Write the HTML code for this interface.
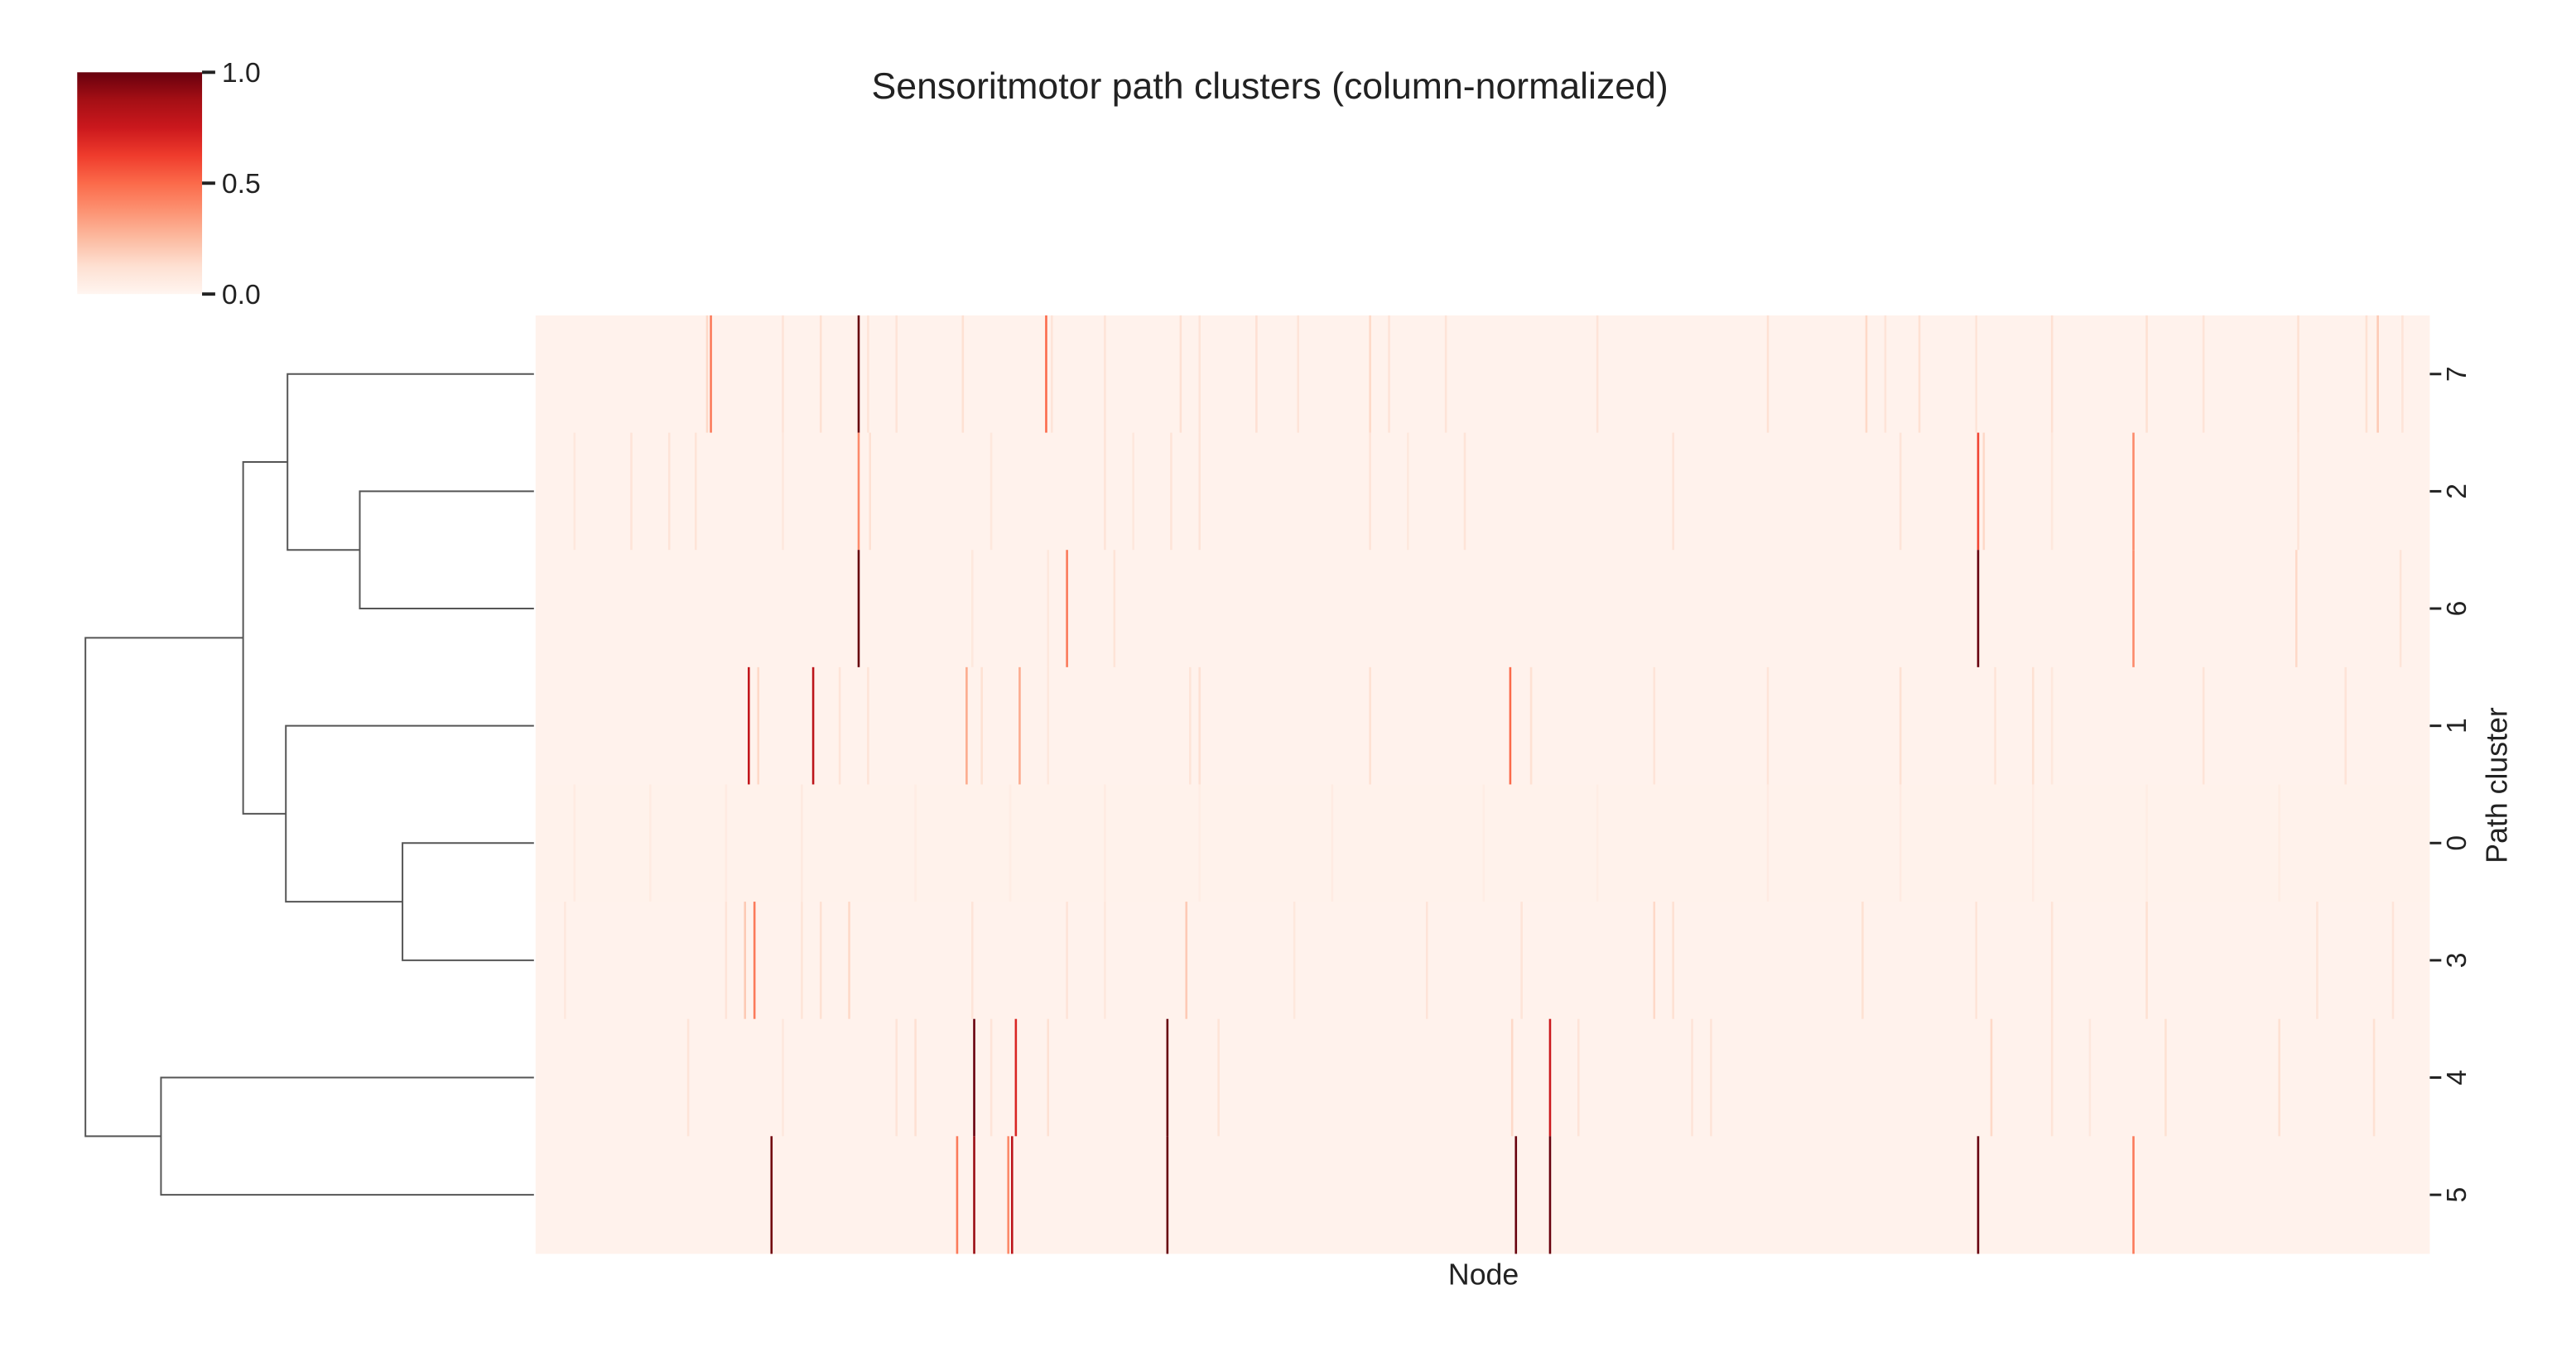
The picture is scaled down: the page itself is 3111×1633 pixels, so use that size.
<!DOCTYPE html>
<html><head><meta charset="utf-8">
<style>
html,body{margin:0;padding:0;background:#fff;}
svg{display:block;font-family:"Liberation Sans",Arial,sans-serif;}
</style></head>
<body>
<svg id="chart" width="3111" height="1633" viewBox="0 0 3136 1646" preserveAspectRatio="none" xmlns="http://www.w3.org/2000/svg">
<defs>
<linearGradient id="cbgrad" x1="0" y1="1" x2="0" y2="0">
<stop offset="0" stop-color="#fff5f0"/><stop offset="0.125" stop-color="#fee0d2"/>
<stop offset="0.25" stop-color="#fcbba1"/><stop offset="0.375" stop-color="#fc9272"/>
<stop offset="0.5" stop-color="#fb6a4a"/><stop offset="0.625" stop-color="#ef3b2c"/>
<stop offset="0.75" stop-color="#cb181d"/><stop offset="0.875" stop-color="#a50f15"/>
<stop offset="1" stop-color="#67000d"/>
</linearGradient>
</defs>
<text x="1546" y="120" font-size="45" text-anchor="middle" fill="#222">Sensoritmotor path clusters (column-normalized)</text>
<g>
<rect x="94" y="88" width="152" height="270" fill="url(#cbgrad)"/>
<g stroke="#222" stroke-width="4">
<line x1="246" y1="88" x2="262" y2="88"/><line x1="246" y1="223" x2="262" y2="223"/><line x1="246" y1="358" x2="262" y2="358"/>
</g>
<g font-size="34" fill="#222">
<text x="270" y="100">1.0</text>
<text x="270" y="235">0.5</text>
<text x="270" y="370">0.0</text>
</g>
</g>
<g id="heat"></g>
<g id="dendro" stroke="#555" stroke-width="2" fill="none"></g>
<g id="yaxis"></g>
<text x="1806" y="1564" font-size="36" text-anchor="middle" fill="#222">Node</text>
<text transform="translate(3052,956) rotate(-90)" font-size="36" text-anchor="middle" fill="#222">Path cluster</text>
</svg>
<script>
// ---- data ----
const rowLabels = ["7","2","6","1","0","3","4","5"];
const nCols = 1000;
const baseValues = [0.015,0.015,0.015,0.015,0.02,0.015,0.015,0.015];
// [column index, value] per row
const row7 = [[92,0.45],[90,0.15],[130,0.1],[150,0.12],[170,1.0],[175,0.1],[190,0.1],[225,0.12],[269,0.5],[272,0.1],[300,0.1],[340,0.12],[350,0.1],[380,0.12],[402,0.1],[440,0.15],[450,0.1],[480,0.1],[560,0.1],[650,0.12],[702,0.15],[712,0.1],[730,0.12],[760,0.1],[800,0.12],[850,0.12],[880,0.1],[930,0.12],[966,0.12],[972,0.2],[985,0.1]];
const row2 = [[20,0.08],[50,0.1],[70,0.1],[84,0.1],[130,0.08],[170,0.4],[176,0.12],[240,0.08],[300,0.1],[315,0.08],[335,0.1],[350,0.1],[440,0.1],[460,0.08],[490,0.1],[600,0.1],[720,0.1],[761,0.6],[764,0.15],[843,0.4],[800,0.08],[930,0.1]];
const row6 = [[170,1.0],[230,0.08],[270,0.08],[280,0.45],[305,0.1],[761,1.0],[843,0.4],[929,0.15],[984,0.1]];
const row1 = [[112,0.78],[117,0.15],[146,0.8],[160,0.1],[175,0.1],[227,0.3],[235,0.12],[255,0.3],[270,0.08],[350,0.12],[345,0.1],[440,0.12],[514,0.5],[525,0.12],[590,0.1],[650,0.1],[720,0.12],[770,0.1],[790,0.12],[800,0.08],[880,0.1],[955,0.1]];
const row0 = [[20,0.06],[60,0.06],[100,0.06],[140,0.07],[200,0.05],[250,0.05],[300,0.06],[350,0.05],[420,0.06],[500,0.05],[560,0.05],[650,0.06],[720,0.06],[790,0.06],[850,0.05],[920,0.05]];
const row3 = [[15,0.08],[100,0.1],[110,0.2],[115,0.45],[140,0.1],[150,0.12],[165,0.15],[230,0.1],[280,0.1],[300,0.08],[343,0.2],[400,0.08],[470,0.1],[520,0.1],[590,0.15],[600,0.12],[700,0.12],[760,0.1],[800,0.1],[850,0.12],[940,0.1],[980,0.1]];
const row4 = [[80,0.1],[130,0.08],[190,0.1],[200,0.12],[231,1.0],[240,0.1],[253,0.7],[270,0.12],[333,1.0],[360,0.1],[515,0.15],[535,0.75],[550,0.1],[610,0.1],[620,0.1],[768,0.15],[800,0.1],[820,0.08],[860,0.12],[920,0.12],[970,0.12]];
const row5 = [[124,0.98],[222,0.45],[231,0.9],[249,0.4],[251,0.8],[333,1.0],[517,1.0],[535,1.0],[761,1.0],[843,0.45]];
const rowData = [row7,row2,row6,row1,row0,row3,row4,row5];

// ---- layout ----
const X0=652, X1=2958, Y0=384, Y1=1526;
const cw=(X1-X0)/nCols, rh=(Y1-Y0)/rowLabels.length;
const xCol=c=>X0+c*cw, yRow=r=>Y0+r*rh;
const stops=[[255,245,240],[254,224,210],[252,187,161],[252,146,114],[251,106,74],[239,59,44],[203,24,29],[165,15,21],[103,0,13]];
function reds(v){v=Math.max(0,Math.min(1,v));const t=v*8,i=Math.min(7,Math.floor(t)),f=t-i;
const a=stops[i],b=stops[i+1];return `rgb(${a.map((x,k)=>Math.round(x+(b[k]-x)*f)).join(',')})`;}
const NS="http://www.w3.org/2000/svg";
const heat=document.getElementById('heat');
rowLabels.forEach((lab,r)=>{
  const bg=document.createElementNS(NS,'rect');
  
  
  bg.setAttribute('x',X0);bg.setAttribute('y',yRow(r));bg.setAttribute('width',X1-X0);bg.setAttribute('height',rh+0.5);
  bg.setAttribute('fill',reds(baseValues[r]));heat.appendChild(bg);
  rowData[r].forEach(([c,v])=>{
    const e=document.createElementNS(NS,'rect');
    
    
    e.setAttribute('x',xCol(c));e.setAttribute('y',yRow(r));e.setAttribute('width',Math.max(cw,2.6));e.setAttribute('height',rh+0.5);
    e.setAttribute('fill',reds(v));heat.appendChild(e);
  });
  const ya=document.getElementById('yaxis');
  const yc=yRow(r)+rh/2;
  const tk=document.createElementNS(NS,'line');
  
  
  tk.setAttribute('x1',X1);tk.setAttribute('x2',X1+14);tk.setAttribute('y1',yc);tk.setAttribute('y2',yc);
  tk.setAttribute('stroke','#222');tk.setAttribute('stroke-width','3');ya.appendChild(tk);
  const tx=document.createElementNS(NS,'text');
  
  
  tx.setAttribute('transform',`translate(${X1+44},${yc}) rotate(-90)`);
  tx.setAttribute('text-anchor','middle');tx.setAttribute('font-size','34');tx.setAttribute('fill','#222');
  tx.textContent=lab;ya.appendChild(tx);
});
// dendrogram: [leftRowPos, rightRowPos, mergeX] in row units
const links = [[1,2,438],[0,1.5,350],[4,5,490],[3,4.5,348],[0.75,3.75,296],[6,7,196],[2.25,6.5,104]];
const childX = {};
const dendro=document.getElementById('dendro');
const leafX=X0-2;
function xOf(pos){return childX[pos]!==undefined?childX[pos]:leafX;}
links.forEach(([a,b,mx])=>{
  const ya=yRow(a)+rh/2, yb=yRow(b)+rh/2;
  const p=document.createElementNS(NS,'path');
  
  
  p.setAttribute('d',`M${xOf(a)},${ya}H${mx}V${yb}H${xOf(b)}`);
  dendro.appendChild(p);
  childX[(a+b)/2]=mx;
});
</script>
</body></html>
